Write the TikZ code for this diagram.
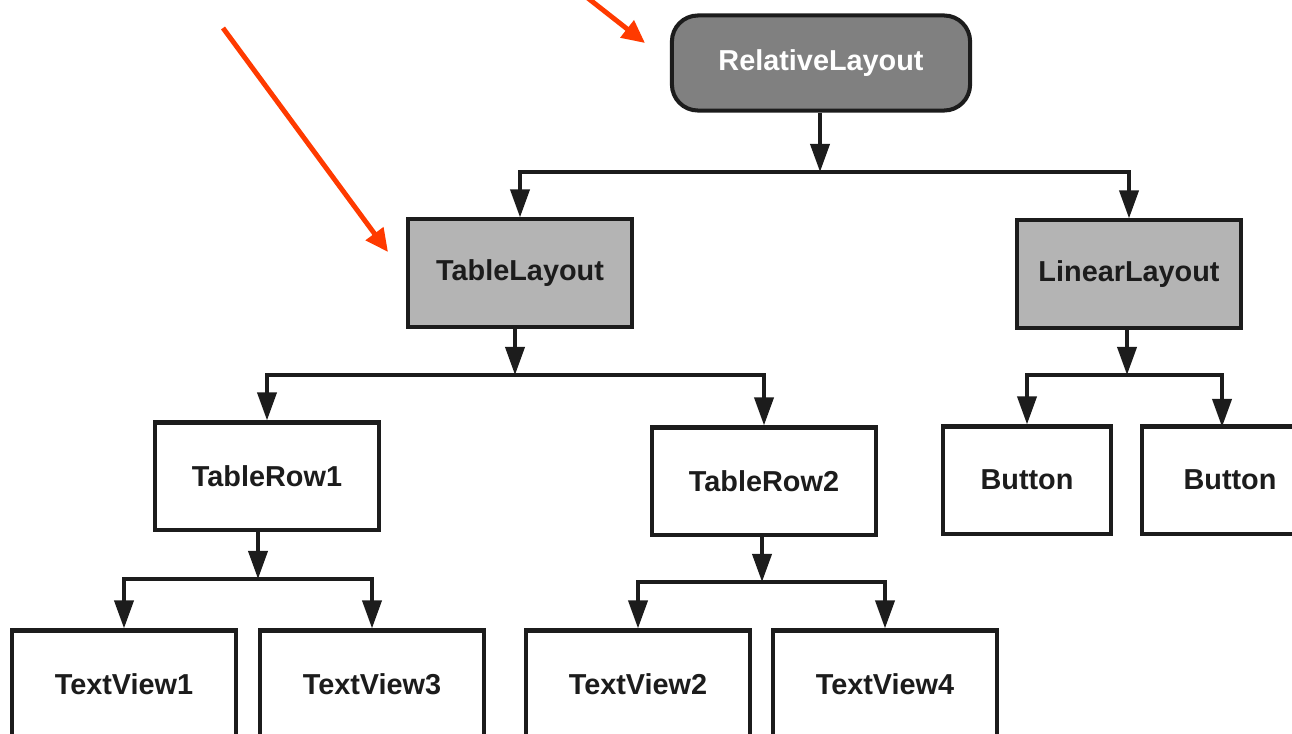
\documentclass[tikz,border=0pt]{standalone}
\usepackage{fontspec}
\setmainfont{Liberation Sans}
\usetikzlibrary{arrows.meta}
\definecolor{ink}{HTML}{1C1C1C}
\definecolor{darkfill}{HTML}{808080}
\definecolor{midfill}{HTML}{B4B4B4}
\definecolor{callout}{HTML}{FF3A00}
\begin{document}
\begin{tikzpicture}[x=0.01cm,y=-0.01cm,
  box/.style={draw=ink,line width=1.15pt,minimum width=2.24cm,minimum height=1.07cm,
    font=\bfseries\fontsize{8.2}{9}\selectfont,text=ink,inner sep=0pt,fill=white},
  grey/.style={box,fill=midfill},
  root/.style={box,fill=darkfill,text=white,rounded corners=0.26cm,minimum width=2.98cm,minimum height=0.95cm},
  btn/.style={box,minimum width=1.68cm},
  link/.style={draw=ink,line width=1.15pt,-{Triangle[length=8pt,width=5.4pt]}},
  redarrow/.style={draw=callout,line width=1.4pt,-{Triangle[length=6.5pt,width=6pt]}}
]
\useasboundingbox (0,0) rectangle (1292,733);
\clip (0,0) rectangle (1292,733);

% nodes
\node[root] (rl) at (821,63) {RelativeLayout};
\node[grey] (tl) at (520,273) {TableLayout};
\node[grey] (ll) at (1129,274) {LinearLayout};
\node[box] (tr1) at (267,476) {TableRow1};
\node[box] (tr2) at (764,481) {TableRow2};
\node[btn] (b1) at (1027,480) {Button};
\node[btn,minimum width=1.76cm] (b2) at (1230,480) {Button};
\node[box] (tv1) at (124,684) {TextView1};
\node[box] (tv3) at (372,684) {TextView3};
\node[box] (tv2) at (638,684) {TextView2};
\node[box] (tv4) at (885,684) {TextView4};

% junctions
\coordinate (j1) at (820,172);
\coordinate (j2) at (515,375);
\coordinate (j3) at (1127,375);
\coordinate (j4) at (258,579);
\coordinate (j5) at (762,582);

% connectors
\draw[link] (rl.south -| j1) -- (j1);
\draw[link] (j1) -| (tl.north);
\draw[link] (j1) -| (ll.north);

\draw[link] (tl.south -| j2) -- (j2);
\draw[link] (j2) -| (tr1.north);
\draw[link] (j2) -| (tr2.north);

\draw[link] (ll.south -| j3) -- (j3);
\draw[link] (j3) -| (b1.north);
\draw[link] (j3) -| (1222,427);

\draw[link] (tr1.south -| j4) -- (j4);
\draw[link] (j4) -| (tv1.north);
\draw[link] (j4) -| (tv3.north);

\draw[link] (tr2.south -| j5) -- (j5);
\draw[link] (j5) -| (tv2.north);
\draw[link] (j5) -| (tv4.north);

% callout arrows
\coordinate (c1s) at (223,28);
\coordinate (c1e) at (388,252);
\coordinate (c2s) at (575,-12);
\coordinate (c2e) at (645,43);
\draw[redarrow] (c1s) -- (c1e);
\draw[redarrow] (c2s) -- (c2e);
\end{tikzpicture}
\end{document}
